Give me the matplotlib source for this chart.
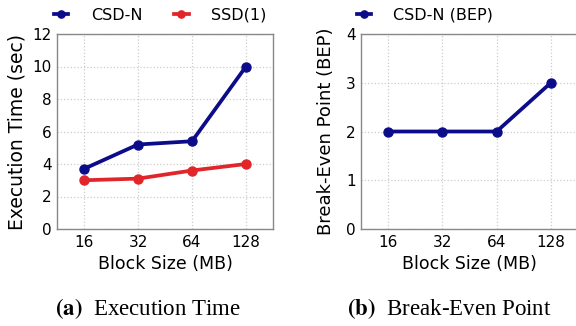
import matplotlib
matplotlib.use("Agg")
from matplotlib import pyplot as plt

block_sizes = ["16", "32", "64", "128"]
csd_n_time = [3.7, 5.2, 5.4, 10.0]
ssd1_time = [3.0, 3.1, 3.6, 4.0]
csd_n_bep = [2, 2, 2, 3]

NAVY = "#0c0c8a"
RED = "#e0262a"

plt.rcParams["font.family"] = "DejaVu Sans"
plt.rcParams["mathtext.fontset"] = "stix"

fig = plt.figure(figsize=(5.76, 3.26), dpi=100)
W, H = 576, 326


def add_axes_px(x0, y_top, x1, y_bottom):
    return fig.add_axes([x0 / W, 1 - y_bottom / H, (x1 - x0) / W, (y_bottom - y_top) / H])


def style_axes(ax):
    ax.grid(True, color="#cccccc", linestyle=":", linewidth=0.9)
    ax.set_axisbelow(True)
    for spine in ax.spines.values():
        spine.set_color("#888888")
        spine.set_linewidth(1.0)
    ax.tick_params(axis="both", length=0, labelsize=11, pad=4)
    ax.set_xlim(-0.5, 3.5)


line_kw = dict(linewidth=2.7, marker="o", markersize=6.5)
legend_kw = dict(frameon=False, fontsize=11.5, handlelength=0.9, handletextpad=1.4,
                 borderaxespad=0.0, markerscale=0.8)

x = range(len(block_sizes))

# (a) execution time
ax1 = add_axes_px(57, 34, 273, 229)
ax1.plot(x, csd_n_time, color=NAVY, label="CSD-N", **line_kw)
ax1.plot(x, ssd1_time, color=RED, label="SSD(1)", **line_kw)
ax1.set_ylim(0, 12)
ax1.set_yticks(range(0, 13, 2))
ax1.set_xticks(list(x))
ax1.set_xticklabels(block_sizes)
ax1.set_xlabel("Block Size (MB)", fontsize=12.5, labelpad=4)
ax1.set_ylabel("Execution Time (sec)", fontsize=13.5, labelpad=4)
style_axes(ax1)
ax1.legend(loc="lower center", bbox_to_anchor=(0.478, 1.024), ncol=2,
           columnspacing=2.0, **legend_kw)

# (b) break-even point
ax2 = add_axes_px(361, 34, 578, 229)
ax2.plot(x, csd_n_bep, color=NAVY, label="CSD-N (BEP)", **line_kw)
ax2.set_ylim(0, 4)
ax2.set_yticks(range(0, 5))
ax2.set_xticks(list(x))
ax2.set_xticklabels(block_sizes)
ax2.set_xlabel("Block Size (MB)", fontsize=12.5, labelpad=4)
ax2.set_ylabel("Break-Even Point (BEP)", fontsize=13, labelpad=8)
style_axes(ax2)
ax2.legend(loc="lower left", bbox_to_anchor=(-0.05, 1.024), **legend_kw)

fig.text(148 / W, 1 - 309 / H, r"$\mathbf{(a)}$  Execution Time", ha="center", va="center",
         fontsize=16.5, family="Liberation Serif")
fig.text(449 / W, 1 - 309 / H, r"$\mathbf{(b)}$  Break-Even Point", ha="center", va="center",
         fontsize=16.5, family="Liberation Serif")

fig.savefig("out.png", dpi=100)
